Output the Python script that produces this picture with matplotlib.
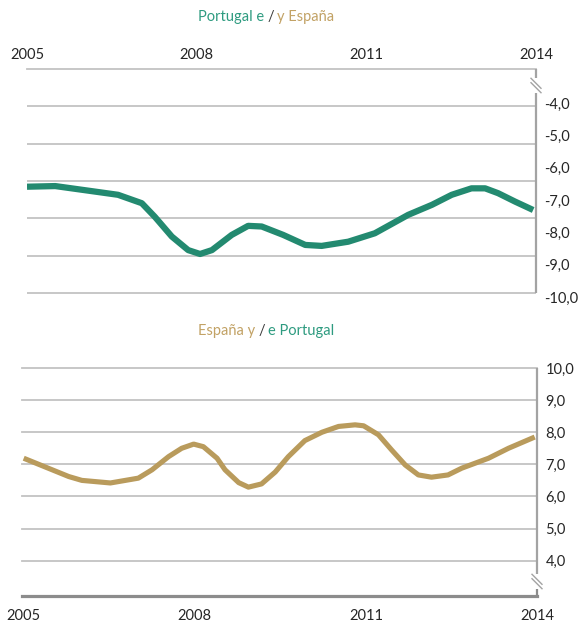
import matplotlib
matplotlib.use("Agg")
import matplotlib.pyplot as plt
from matplotlib.offsetbox import TextArea, HPacker, AnchoredOffsetbox
from matplotlib.ticker import FuncFormatter
import matplotlib.transforms as mtransforms

plt.rcParams['font.family'] = ['Lato', 'DejaVu Sans']

# ---- data -------------------------------------------------------------
pt_years = [2005.0, 2005.5, 2006.2, 2006.61, 2007.03, 2007.26, 2007.56, 2007.85,
            2008.06, 2008.27, 2008.62, 2008.91, 2009.15, 2009.53, 2009.92, 2010.21,
            2010.68, 2011.15, 2011.74, 2012.16, 2012.51, 2012.86, 2013.10, 2013.33,
            2013.63, 2013.95]
pt_values = [-6.59, -6.57, -6.74, -6.84, -7.10, -7.52, -8.13, -8.55,
             -8.67, -8.55, -8.08, -7.80, -7.82, -8.08, -8.39, -8.42,
             -8.29, -8.03, -7.46, -7.15, -6.84, -6.64, -6.64, -6.79,
             -7.05, -7.31]

es_years = [2005.0, 2005.43, 2005.79, 2006.02, 2006.52, 2007.01, 2007.25, 2007.54,
            2007.77, 2007.98, 2008.15, 2008.39, 2008.53, 2008.77, 2008.94, 2009.17,
            2009.41, 2009.64, 2009.93, 2010.23, 2010.52, 2010.81, 2010.96, 2011.22,
            2011.45, 2011.69, 2011.92, 2012.15, 2012.44, 2012.68, 2013.15, 2013.50,
            2013.96]
es_values = [7.19, 6.88, 6.62, 6.50, 6.42, 6.57, 6.83, 7.24,
             7.50, 7.63, 7.55, 7.19, 6.83, 6.43, 6.29, 6.39,
             6.76, 7.24, 7.74, 8.00, 8.18, 8.23, 8.20, 7.92,
             7.45, 6.98, 6.67, 6.60, 6.67, 6.88, 7.19, 7.50,
             7.85]

year_ticks = [2005, 2008, 2011, 2014]
pt_ticks = [-4, -5, -6, -7, -8, -9, -10]
es_ticks = [10, 9, 8, 7, 6, 5, 4]

# ---- style ------------------------------------------------------------
TEAL = '#238a70'
TEAL_TXT = '#2e9b80'
GOLD = '#b99b5c'
GOLD_TXT = '#c2a265'
GRID = '#c3c3c3'
AXIS = '#a3a3a3'
AXIS_DARK = '#8c8c8c'
TXT = '#262626'
FS = 10.5

W, H = 579, 622
fig = plt.figure(figsize=(W / 100, H / 100), dpi=100)


def box(x0, y0, x1, y1):
    """Axes rectangle from pixel edges (origin top-left)."""
    return [x0 / W, 1 - y1 / H, (x1 - x0) / W, (y1 - y0) / H]


comma = FuncFormatter(lambda v, p: f"{v:.1f}".replace('.', ','))
ax_w_px = {}


def break_marks(ax, ycenter_px_from_top, ax_top_px, ax_h_px):
    """Small double slash on the right-hand axis line."""
    yc = 1 - (ycenter_px_from_top - ax_top_px) / ax_h_px
    for dy in (-2.2, 2.2):
        tr = ax.transAxes + mtransforms.ScaledTranslation(0, dy / 100, fig.dpi_scale_trans)
        ax.plot([1 - 5 / ax_w_px[ax], 1 + 5 / ax_w_px[ax]],
                [yc + 5 / ax_h_px, yc - 5 / ax_h_px],
                color=AXIS, lw=1.0, transform=tr, clip_on=False, zorder=6)


# ---- top panel: Portugal ---------------------------------------------
t_top, t_bot = 69, 297
ax1 = fig.add_axes(box(27, t_top, 536, t_bot))
ax_w_px[ax1] = 536 - 27
axg = ax1.twinx()
axg.set_ylim(-0.107, 6.0)
axg.set_yticks(range(0, 6))
axg.yaxis.grid(True, color=GRID, lw=1.3)
axg.tick_params(left=False, right=False, labelleft=False, labelright=False)
for s in axg.spines.values():
    s.set_visible(False)
ax1.set_zorder(axg.get_zorder() + 1)
ax1.patch.set_visible(False)

ax1.plot(pt_years, pt_values, color=TEAL, lw=4.5, solid_joinstyle='round',
         solid_capstyle='butt', zorder=4)
ax1.set_xlim(2005, 2014)
ax1.set_ylim(-10, -2.95)
ax1.xaxis.tick_top()
ax1.set_xticks(year_ticks)
ax1.set_yticks(pt_ticks)
ax1.yaxis.set_major_formatter(comma)
ax1.yaxis.tick_right()
ax1.tick_params(axis='x', length=0, pad=5, labelsize=FS, colors=TXT)
ax1.tick_params(axis='y', length=0, pad=6, labelsize=FS, colors=TXT)
for side in ('left', 'bottom', 'right'):
    ax1.spines[side].set_visible(False)
ax1.spines['top'].set_color(GRID)
ax1.spines['top'].set_linewidth(1.3)

h1 = t_bot - t_top
ax1.plot([1, 1], [1, 1 - 9 / h1], color=AXIS, lw=1.6, transform=ax1.transAxes,
         clip_on=False, zorder=5, solid_capstyle='butt')
ax1.plot([1, 1], [1 - 24 / h1, 0.017], color=AXIS, lw=1.6, transform=ax1.transAxes,
         clip_on=False, zorder=5, solid_capstyle='butt')
break_marks(ax1, 85.5, t_top, h1)

# ---- bottom panel: Spain ---------------------------------------------
b_top, b_bot = 368, 596
ax2 = fig.add_axes(box(22, b_top, 537, b_bot))
ax_w_px[ax2] = 537 - 22
ax2.plot(es_years, es_values, color=GOLD, lw=3.7, solid_joinstyle='round',
         solid_capstyle='butt', zorder=4)
ax2.set_xlim(2004.97, 2014)
ax2.set_ylim(2.9, 10.0)
ax2.set_xticks(year_ticks)
ax2.set_yticks(es_ticks)
ax2.yaxis.set_major_formatter(comma)
ax2.yaxis.tick_right()
ax2.yaxis.grid(True, color=GRID, lw=1.3)
for gl in ax2.get_ygridlines():
    gl.set_clip_on(False)
ax2.tick_params(axis='x', length=0, pad=9, labelsize=FS, colors=TXT)
ax2.tick_params(axis='y', length=0, pad=6, labelsize=FS, colors=TXT)
for side in ('left', 'top', 'right'):
    ax2.spines[side].set_visible(False)
ax2.spines['bottom'].set_color(AXIS_DARK)
ax2.spines['bottom'].set_linewidth(2.3)

h2 = b_bot - b_top
ax2.plot([1, 1], [1, 1 - (574 - b_top) / h2], color=AXIS, lw=1.6,
         transform=ax2.transAxes, clip_on=False, zorder=5, solid_capstyle='butt')
ax2.plot([1, 1], [1 - (589 - b_top) / h2, 0], color=AXIS_DARK, lw=1.6,
         transform=ax2.transAxes, clip_on=False, zorder=5, solid_capstyle='butt')
break_marks(ax2, 581.5, b_top, h2)


# ---- two-colour titles ------------------------------------------------
def title(parts, y_px):
    boxes = [TextArea(t, textprops=dict(color=c, fontsize=FS)) for t, c in parts]
    pack = HPacker(children=boxes, align='baseline', pad=0, sep=2)
    anch = AnchoredOffsetbox(loc='center', child=pack, frameon=False, pad=0,
                             bbox_to_anchor=(266 / W, 1 - y_px / H),
                             bbox_transform=fig.transFigure, borderpad=0)
    fig.add_artist(anch)


title([("Portugal e", TEAL_TXT), ("/", '#3a3a3a'), ("y España", GOLD_TXT)], 17)
title([("España y", GOLD_TXT), ("/", '#3a3a3a'), ("e Portugal", TEAL_TXT)], 331)

fig.savefig("out.png", dpi=100)
